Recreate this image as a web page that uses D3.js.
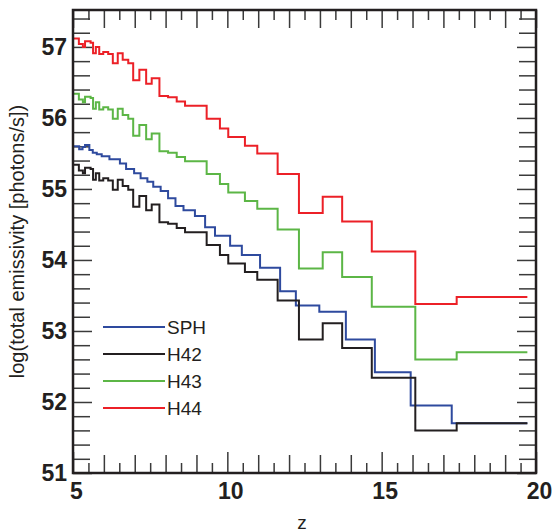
<!DOCTYPE html>
<html>
<head>
<meta charset="utf-8">
<script src="https://cdn.jsdelivr.net/npm/d3@7"></script>
<style>
  html, body { margin: 0; padding: 0; background: #fff; }
  svg { display: block; }
  text { font-family: "Liberation Sans", Arial, Helvetica, sans-serif; fill: #231f20; }
</style>
</head>
<body>
<svg id="chart" width="555" height="532"></svg>
<script>
// ---- data ----
const seriesNames = ["SPH", "H42", "H43", "H44"];
const seriesColors = ["#2e4a9e", "#231f20", "#5cb646", "#ec2027"];

// bin start redshifts for the H42/H43/H44 runs, and where the last bin ends
const zStartH = [5.00, 5.19, 5.32, 5.39, 5.57, 5.65, 5.74, 5.85, 5.98, 6.14,
                 6.29, 6.45, 6.61, 6.79, 6.95, 7.15, 7.37, 7.55, 7.80, 8.08,
                 8.36, 8.63, 9.33, 9.76, 10.03, 10.57, 10.97, 11.63, 12.32, 13.09,
                 13.72, 14.68, 16.09, 17.43];
const zEndH = 19.72;

const h44 = [57.12, 57.04, 57.00, 57.08, 57.06, 56.91, 57.00, 56.90, 56.93, 56.90,
             56.77, 56.91, 56.82, 56.77, 56.53, 56.68, 56.48, 56.56, 56.31, 56.29,
             56.23, 56.17, 55.99, 55.85, 55.73, 55.61, 55.50, 55.21, 54.66, 54.89,
             54.54, 54.12, 53.38, 53.48];
const h43 = [56.34, 56.26, 56.22, 56.30, 56.28, 56.13, 56.22, 56.12, 56.15, 56.12,
             55.99, 56.13, 56.04, 55.99, 55.75, 55.90, 55.70, 55.78, 55.53, 55.51,
             55.45, 55.39, 55.21, 55.07, 54.95, 54.83, 54.72, 54.43, 53.88, 54.11,
             53.76, 53.34, 52.60, 52.70];
const h42 = [55.34, 55.26, 55.22, 55.30, 55.28, 55.13, 55.22, 55.12, 55.15, 55.12,
             54.99, 55.13, 55.04, 54.99, 54.75, 54.90, 54.70, 54.78, 54.53, 54.51,
             54.45, 54.39, 54.21, 54.07, 53.95, 53.83, 53.72, 53.43, 52.88, 53.11,
             52.76, 52.34, 51.60, 51.70];

// bin start redshifts for the SPH run
const zStartSPH = [5.00, 5.20, 5.31, 5.39, 5.53, 5.64, 5.77, 5.93, 6.18, 6.52,
                   6.72, 6.98, 7.19, 7.41, 7.60, 7.84, 8.08, 8.32, 8.58, 8.95,
                   9.28, 9.60, 10.09, 10.47, 11.06, 11.71, 12.22, 12.98, 13.84, 14.78,
                   15.94, 17.27];
const zEndSPH = 19.72;
const sph = [55.60, 55.56, 55.59, 55.62, 55.55, 55.51, 55.49, 55.46, 55.42, 55.36,
             55.28, 55.22, 55.15, 55.10, 55.03, 54.97, 54.87, 54.76, 54.70, 54.62,
             54.46, 54.34, 54.20, 54.07, 53.89, 53.56, 53.36, 53.27, 52.88, 52.42,
             51.95, 51.70];

const xDomain = [5, 20];
const yDomain = [51, 57.52];
const xLabelTicks = [5, 10, 15, 20];
const yLabelTicks = [51, 52, 53, 54, 55, 56, 57];
const yTitle = "log(total emissivity [photons/s])";
const xTitle = "z";

// ---- layout ----
const W = 555, H = 532;
const L = 73, R = 536, T = 10, B = 473;

const svg = d3.select("#chart");
const x = d3.scaleLinear().domain(xDomain).range([L, R]);
const y = d3.scaleLinear().domain(yDomain).range([B, T]);

// tick value sets
const xHalf = d3.range(5.5, 20, 1);            // half-integer
const xInt = d3.range(6, 20, 1).filter(v => v % 5 !== 0);
const yMinor = d3.range(51, 57.52, 0.2).map(v => +v.toFixed(1)).filter(v => Math.abs(v - Math.round(v)) > 1e-6);

function styleAxis(g) {
  g.select(".domain").remove();
  g.selectAll(".tick line").attr("stroke", "#3a3a3a").attr("stroke-width", 1.5);
}

// bottom axis
svg.append("g").attr("transform", `translate(0,${B})`)
  .call(d3.axisBottom(x).tickValues(xHalf).tickSize(-10).tickFormat("")).call(styleAxis);
svg.append("g").attr("transform", `translate(0,${B})`)
  .call(d3.axisBottom(x).tickValues(xInt).tickSize(-18).tickFormat("")).call(styleAxis);
const xb = svg.append("g").attr("transform", `translate(0,${B})`)
  .call(d3.axisBottom(x).tickValues(xLabelTicks).tickSize(-21).tickPadding(10).tickFormat(d3.format("d")))
  .call(styleAxis);
xb.selectAll(".tick text").attr("font-size", 23).attr("font-weight", "bold")
  .attr("font-family", '"Liberation Sans", Arial, sans-serif').attr("fill", "#231f20").attr("dx", 3);

// top axis
svg.append("g").attr("transform", `translate(0,${T})`)
  .call(d3.axisTop(x).tickValues(xHalf).tickSize(-10).tickFormat("")).call(styleAxis);
svg.append("g").attr("transform", `translate(0,${T})`)
  .call(d3.axisTop(x).tickValues(xInt.concat(xLabelTicks)).tickSize(-18).tickFormat("")).call(styleAxis);

// left axis
svg.append("g").attr("transform", `translate(${L},0)`)
  .call(d3.axisLeft(y).tickValues(yMinor).tickSize(-17).tickFormat("")).call(styleAxis);
const yl = svg.append("g").attr("transform", `translate(${L},0)`)
  .call(d3.axisLeft(y).tickValues(yLabelTicks).tickSize(-19).tickPadding(6).tickFormat(d3.format("d")))
  .call(styleAxis);
yl.selectAll(".tick text").attr("font-size", 23).attr("font-weight", "bold")
  .attr("font-family", '"Liberation Sans", Arial, sans-serif').attr("fill", "#231f20");

// right axis
svg.append("g").attr("transform", `translate(${R},0)`)
  .call(d3.axisRight(y).tickValues(yMinor).tickSize(-17).tickFormat("")).call(styleAxis);
svg.append("g").attr("transform", `translate(${R},0)`)
  .call(d3.axisRight(y).tickValues(yLabelTicks).tickSize(-19).tickFormat("")).call(styleAxis);

// series lines
const line = d3.line().x(d => x(d[0])).y(d => y(d[1])).curve(d3.curveStepAfter);
function pts(starts, end, vals) {
  const p = starts.map((z, i) => [z, vals[i]]);
  p.push([end, vals[vals.length - 1]]);
  return p;
}
const seriesData = [
  pts(zStartSPH, zEndSPH, sph),
  pts(zStartH, zEndH, h42),
  pts(zStartH, zEndH, h43),
  pts(zStartH, zEndH, h44)
];
seriesData.forEach((d, i) => {
  svg.append("path").datum(d).attr("d", line)
    .attr("fill", "none").attr("stroke", seriesColors[i]).attr("stroke-width", 2);
});

// frame
svg.append("rect").attr("x", L).attr("y", T).attr("width", R - L).attr("height", B - T)
  .attr("fill", "none").attr("stroke", "#231f20").attr("stroke-width", 2.5);

// legend
const legY0 = 327, legDY = 27;
seriesNames.forEach((name, i) => {
  const yy = legY0 + i * legDY;
  svg.append("line").attr("x1", 103).attr("x2", 165).attr("y1", yy).attr("y2", yy)
    .attr("stroke", seriesColors[i]).attr("stroke-width", 2);
  svg.append("text").attr("x", 167).attr("y", yy).attr("dy", "0.35em")
    .attr("font-size", 19).text(name);
});

// axis titles
svg.append("text").attr("transform", `translate(24,${(T + B) / 2}) rotate(-90)`)
  .attr("text-anchor", "middle").attr("font-size", 20).text(yTitle);
svg.append("text").attr("x", 302).attr("y", 529).attr("text-anchor", "middle")
  .attr("font-size", 19).text(xTitle);
</script>
</body>
</html>
